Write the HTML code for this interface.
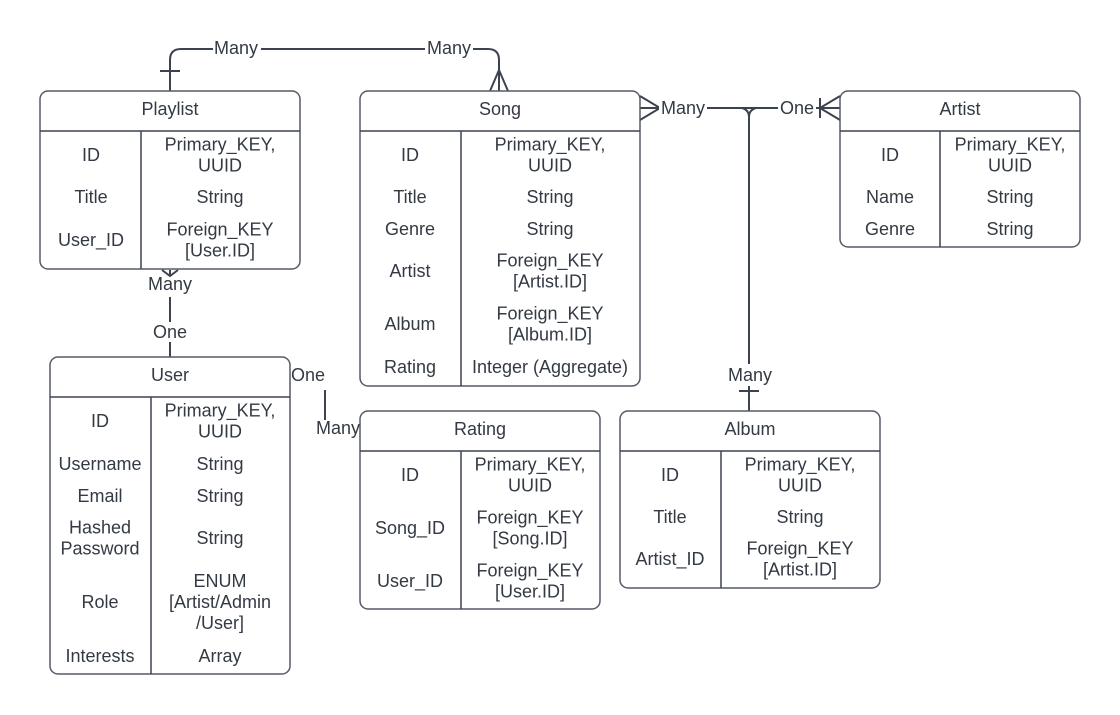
<!DOCTYPE html>
<html><head><meta charset="utf-8"><style>
html,body{margin:0;padding:0;background:#fff;width:1120px;height:715px;overflow:hidden}
svg text{font-family:"Liberation Sans",Arial,sans-serif;font-size:18px;fill:#333a44;text-anchor:middle;dominant-baseline:central}
</style></head><body>
<svg width="1120" height="715" xmlns="http://www.w3.org/2000/svg">
<g fill="none" stroke="#3c4250" stroke-width="2">
<path d="M170 91 V60 Q170 49 181 49 H488 Q499 49 499 60 V91"/>
<path d="M160 71 H180"/>
<path d="M490 91 L499 70 L508 91"/>
<path d="M640 108 H840"/>
<path d="M640 96 L660 108 L640 120"/>
<path d="M840 96 L820 108 L840 120"/>
<path d="M820 98 V118"/>
<path d="M749 117 V411"/>
<path d="M742 108 Q749 110 749 117 Q749 110 756 108"/>
<path d="M739 391 H759"/>
<path d="M170 297 V322 M170 342 V357"/>
<path d="M162 270 L170 276 L178 270 M170 270 V276"/>
<path d="M325 390 V420"/>
</g>
<g fill="#fff" stroke="none">
<rect x="213" y="38" width="48" height="22"/>
<rect x="425" y="38" width="48" height="22"/>
<rect x="659" y="97" width="48" height="22"/>
<rect x="778" y="97" width="38" height="22"/>
<rect x="725" y="364" width="48" height="22"/>
</g>
<text x="236" y="48">Many</text>
<text x="449" y="48">Many</text>
<text x="683" y="108">Many</text>
<text x="797" y="108">One</text>
<text x="750" y="375">Many</text>
<text x="170" y="284">Many</text>
<text x="170" y="332">One</text>
<text x="308" y="375">One</text>
<text x="338" y="428">Many</text>

<g fill="#fff" stroke="#555b66" stroke-width="1.5">
<rect x="40" y="91" width="260" height="178" rx="8"/>
<rect x="360" y="91" width="280" height="295" rx="8"/>
<rect x="840" y="91" width="240" height="156" rx="8"/>
<rect x="50" y="357" width="240" height="317" rx="8"/>
<rect x="360" y="411" width="240" height="198" rx="8"/>
<rect x="620" y="411" width="260" height="177" rx="8"/>
</g>
<g stroke="#3c4250" stroke-width="1.5">
<path d="M40 131 H300 M141 131 V269"/>
<path d="M360 131 H640 M461 131 V386"/>
<path d="M840 131 H1080 M940 131 V247"/>
<path d="M50 397 H290 M151 397 V674"/>
<path d="M360 451 H600 M461 451 V609"/>
<path d="M620 451 H880 M721 451 V588"/>
</g>

<text x="170" y="109">Playlist</text>
<text x="91" y="155">ID</text><text x="220" y="144.5">Primary_KEY,</text><text x="220" y="165.5">UUID</text>
<text x="91" y="197">Title</text><text x="220" y="197">String</text>
<text x="91" y="240">User_ID</text><text x="220" y="229.5">Foreign_KEY</text><text x="220" y="250.5">[User.ID]</text>
<text x="500" y="109">Song</text>
<text x="410" y="155">ID</text><text x="550" y="144.5">Primary_KEY,</text><text x="550" y="165.5">UUID</text>
<text x="410" y="197">Title</text><text x="550" y="197">String</text>
<text x="410" y="229">Genre</text><text x="550" y="229">String</text>
<text x="410" y="271">Artist</text><text x="550" y="260.5">Foreign_KEY</text><text x="550" y="281.5">[Artist.ID]</text>
<text x="410" y="324">Album</text><text x="550" y="313.5">Foreign_KEY</text><text x="550" y="334.5">[Album.ID]</text>
<text x="410" y="367">Rating</text><text x="550" y="367">Integer (Aggregate)</text>
<text x="960" y="109">Artist</text>
<text x="890" y="155">ID</text><text x="1010" y="144.5">Primary_KEY,</text><text x="1010" y="165.5">UUID</text>
<text x="890" y="197">Name</text><text x="1010" y="197">String</text>
<text x="890" y="229">Genre</text><text x="1010" y="229">String</text>
<text x="170" y="375">User</text>
<text x="100" y="421">ID</text><text x="220" y="410.5">Primary_KEY,</text><text x="220" y="431.5">UUID</text>
<text x="100" y="464">Username</text><text x="220" y="464">String</text>
<text x="100" y="496">Email</text><text x="220" y="496">String</text>
<text x="100" y="527.5">Hashed</text><text x="100" y="548.5">Password</text><text x="220" y="538">String</text>
<text x="100" y="602">Role</text><text x="220" y="581">ENUM</text><text x="220" y="602">[Artist/Admin</text><text x="220" y="623">/User]</text>
<text x="100" y="656">Interests</text><text x="220" y="656">Array</text>
<text x="480" y="429">Rating</text>
<text x="410" y="475">ID</text><text x="530" y="464.5">Primary_KEY,</text><text x="530" y="485.5">UUID</text>
<text x="410" y="528">Song_ID</text><text x="530" y="517.5">Foreign_KEY</text><text x="530" y="538.5">[Song.ID]</text>
<text x="410" y="581">User_ID</text><text x="530" y="570.5">Foreign_KEY</text><text x="530" y="591.5">[User.ID]</text>
<text x="750" y="429">Album</text>
<text x="670" y="475">ID</text><text x="800" y="464.5">Primary_KEY,</text><text x="800" y="485.5">UUID</text>
<text x="670" y="517">Title</text><text x="800" y="517">String</text>
<text x="670" y="559">Artist_ID</text><text x="800" y="548.5">Foreign_KEY</text><text x="800" y="569.5">[Artist.ID]</text>
</svg>
</body></html>
